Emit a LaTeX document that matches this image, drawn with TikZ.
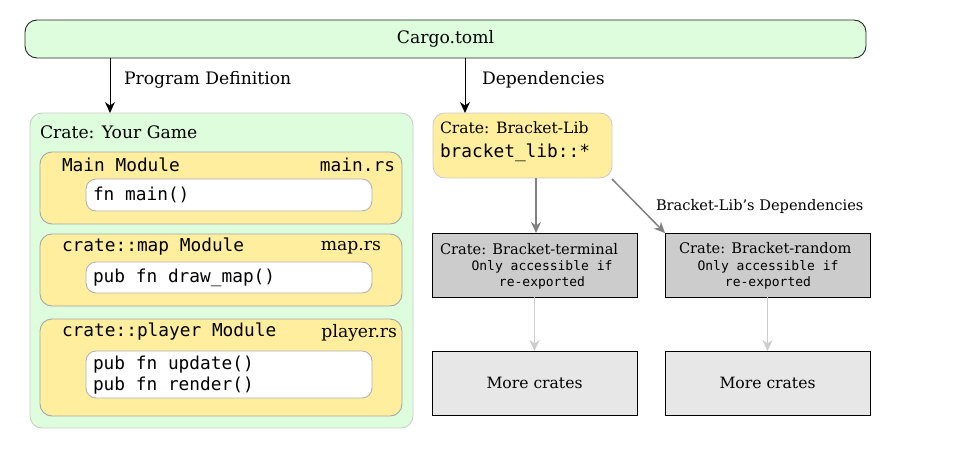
\documentclass[tikz,border=0pt]{standalone}
\usepackage{fontspec}
\setmainfont{DejaVu Serif}
\setmonofont{DejaVu Sans Mono}
\usetikzlibrary{arrows.meta}
\definecolor{lgreen}{HTML}{DDFDDD}
\definecolor{lyellow}{HTML}{FFEE9E}
\definecolor{dgrey}{HTML}{CCCCCC}
\definecolor{pgrey}{HTML}{E6E7E6}
\newcommand{\szBig}{\fontsize{17.2}{20}\selectfont}
\newcommand{\szMid}{\fontsize{14.6}{17}\selectfont}
\newcommand{\szLib}{\fontsize{15.6}{18}\selectfont}
\newcommand{\szMono}{\fontsize{17.8}{21}\selectfont}
\newcommand{\szSmallMono}{\fontsize{13}{16}\selectfont}
\begin{document}
\begin{tikzpicture}[x=1pt,y=-1pt,
  every node/.style={inner sep=0pt, outer sep=0pt},
  frame/.style={anchor=north west, line width=0.9pt},
  roundgreen/.style={frame, fill=lgreen, rounded corners=12pt},
  roundyellow/.style={frame, fill=lyellow, draw=black!35, rounded corners=12pt},
  roundwhite/.style={frame, fill=white, draw=black!30, rounded corners=10pt},
  squarebox/.style={frame, draw=black, line width=0.9pt},
  lbl/.style={anchor=west},
  arr/.style={-{Stealth[length=11pt,width=10pt]}, line width=1pt},
  grayarr/.style={-{Stealth[length=11pt,width=10pt]}, line width=1.5pt},
]
\useasboundingbox (0,0) rectangle (973,452);

% Cargo
\node[roundgreen, draw=black!85, minimum width=841pt, minimum height=38pt] (cargo) at (25,20) {};
\node[font=\szBig] (cargotxt) at (cargo.center) {Cargo.toml};

% Your game crate
\node[roundgreen, draw=black!20, minimum width=383pt, minimum height=315pt] (game) at (30,113) {};
\node[lbl, font=\szBig] (gametxt) at (40,132) {Crate: Your Game};

% main module
\node[roundyellow, minimum width=362pt, minimum height=72pt] (mainmod) at (40,152) {};
\node[lbl, font=\szMono\ttfamily] (mainmodtxt) at (62,165) {Main Module};
\node[anchor=east, font=\szMono\ttfamily] (mainfile) at (395,165) {main.rs};
\node[roundwhite, minimum width=286pt, minimum height=32pt] (mainfn) at (86,179) {};
\node[lbl, font=\szMono\ttfamily] (mainfntxt) at (93,195) {fn main()};

% map module
\node[roundyellow, minimum width=362pt, minimum height=72pt] (mapmod) at (40,234) {};
\node[lbl, font=\szMono\ttfamily] (mapmodtxt) at (62,247) {crate::map Module};
\node[anchor=east, font=\szBig] (mapfile) at (381,248) {map.rs};
\node[roundwhite, minimum width=286pt, minimum height=31pt] (mapfn) at (86,262) {};
\node[lbl, font=\szMono\ttfamily] (mapfntxt) at (93,278) {pub fn draw\_map()};

% player module
\node[roundyellow, minimum width=362pt, minimum height=97pt] (plmod) at (40,319) {};
\node[lbl, font=\szMono\ttfamily] (plmodtxt) at (62,332) {crate::player Module};
\node[anchor=east, font=\szBig] (plfile) at (397,333) {player.rs};
\node[roundwhite, minimum width=286pt, minimum height=47pt] (plfn) at (86,351) {};
\node[lbl, font=\szMono\ttfamily, align=left] (plfntxt) at (93,375) {pub fn update()\\[0pt]pub fn render()};

% bracket lib
\node[roundyellow, draw=black!20, minimum width=179pt, minimum height=65pt] (lib) at (433,113) {};
\node[lbl, font=\szLib] (libtxt) at (440,128) {Crate: Bracket-Lib};
\node[lbl, font=\szMono\ttfamily] (libmod) at (440,153) {bracket\_lib::*};

% dependency crates
\node[squarebox, fill=dgrey, minimum width=205pt, minimum height=64pt] (term) at (432,233) {};
\node[lbl, font=\szMid] (termtxt) at (440,249) {Crate: Bracket-terminal};
\node[font=\szSmallMono\ttfamily, align=center] (termnote) at (542,275) {Only accessible if\\re-exported};

\node[squarebox, fill=dgrey, minimum width=205pt, minimum height=64pt] (rand) at (665,233) {};
\node[lbl, font=\szMid] (randtxt) at (679,248) {Crate: Bracket-random};
\node[font=\szSmallMono\ttfamily, align=center] (randnote) at (768,275) {Only accessible if\\re-exported};

\node[squarebox, fill=pgrey, minimum width=205pt, minimum height=64pt, font=\szLib] (more1) at (432,351) {More crates};
\node[squarebox, fill=pgrey, minimum width=205pt, minimum height=64pt, font=\szLib] (more2) at (665,351) {More crates};

% arrows
\coordinate (gametop) at (110,113);
\coordinate (libtop) at (465,113);
\draw[arr] (cargo.south -| gametop) -- (gametop);
\draw[arr] (cargo.south -| libtop) -- (libtop);
\node[lbl, font=\szBig] (progdef) at (124,80) {Program Definition};
\node[lbl, font=\szBig] (deps) at (482,80) {Dependencies};

\coordinate (termtop) at (536,233);
\draw[grayarr, draw=black!50, fill=black!50] (lib.south -| termtop) -- (termtop);
\draw[grayarr, draw=black!50, fill=black!50] (612,179) -- (rand.north west);
\node[lbl, font=\szMid] (libdeps) at (656,206) {Bracket-Lib's Dependencies};

\draw[grayarr, draw=black!20, fill=black!20] (term.south) -- (more1.north);
\draw[grayarr, draw=black!20, fill=black!20] (rand.south) -- (more2.north);
\end{tikzpicture}
\end{document}
